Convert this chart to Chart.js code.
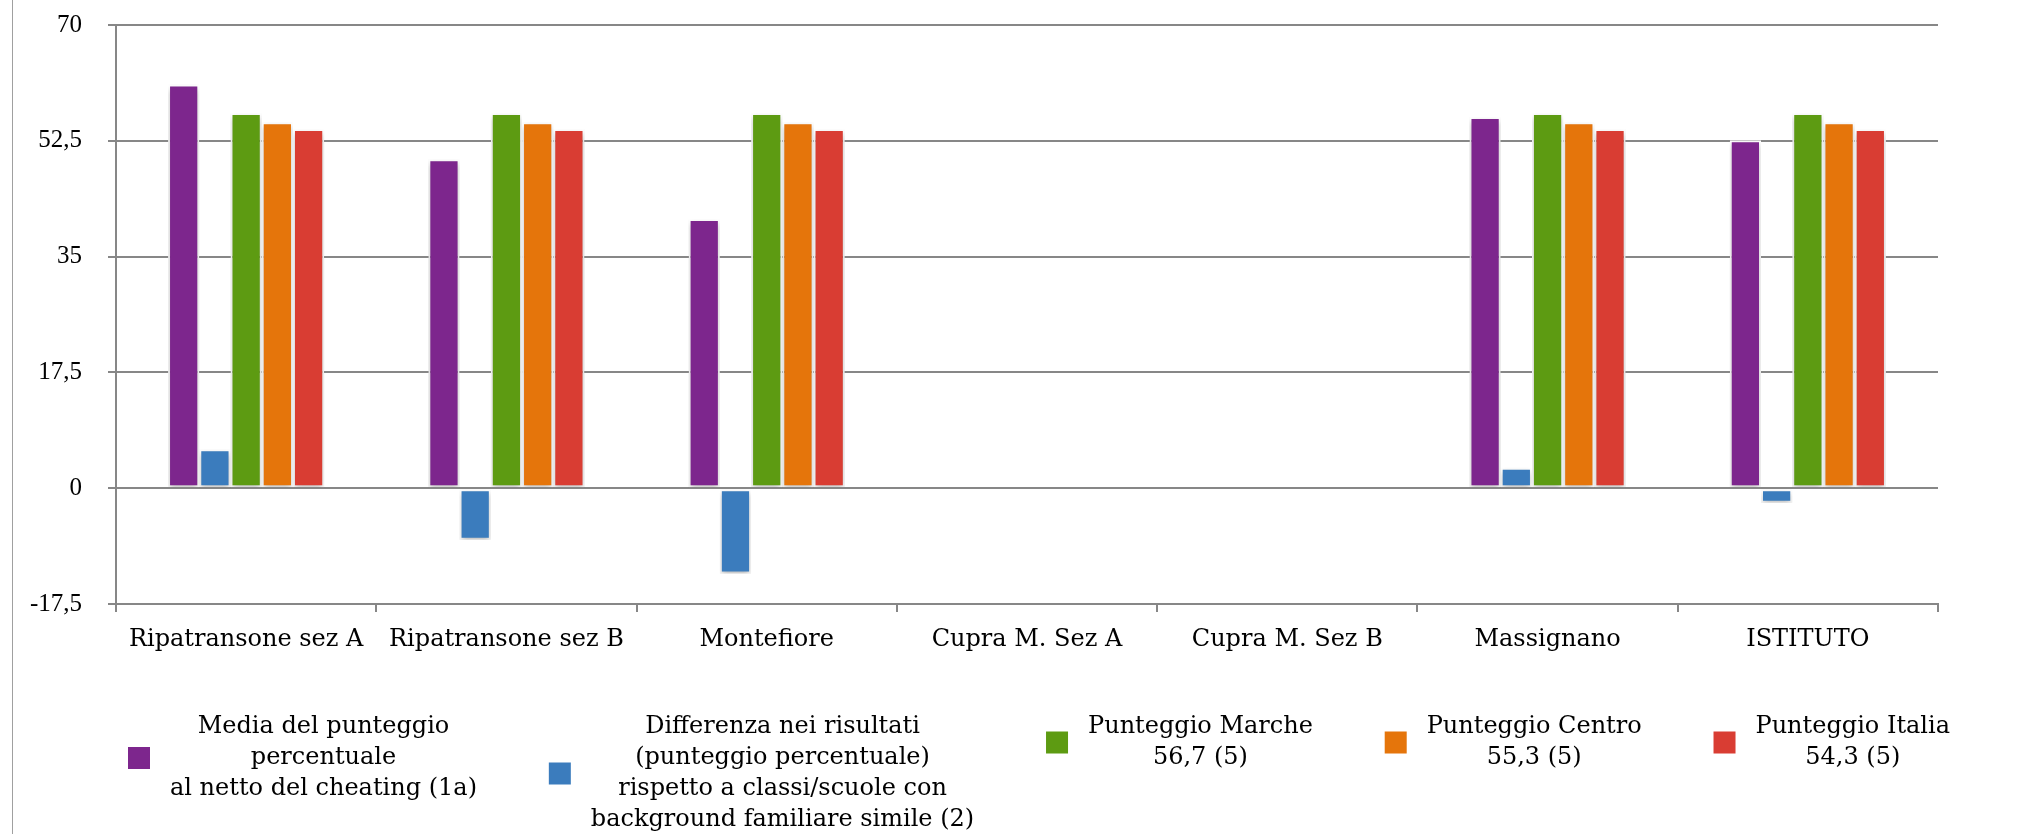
<!DOCTYPE html>
<html>
<head>
<meta charset="utf-8">
<script src="https://cdn.jsdelivr.net/npm/chart.js@4/dist/chart.umd.min.js"></script>
<style>
  html, body { margin: 0; padding: 0; background: #fff; }
  #wrap { position: relative; width: 2018px; height: 834px; }
  #frame { position: absolute; left: 12px; top: 0; width: 1px; height: 834px; background: #a0a0a0; }
</style>
</head>
<body>
<div id="wrap">
  <div id="frame"></div>
  <canvas id="chart" width="2018" height="834"></canvas>
</div>
<script>
// categories and series
const categories = ['Ripatransone sez A', 'Ripatransone sez B', 'Montefiore', 'Cupra M. Sez A', 'Cupra M. Sez B', 'Massignano', 'ISTITUTO'];
const mediaPunteggio = [61.0, 49.7, 40.7, null, null, 56.1, 52.6];
const differenza = [5.9, -7.8, -12.9, null, null, 3.1, -2.2];
const marche = [56.7, 56.7, 56.7, null, null, 56.7, 56.7];
const centro = [55.3, 55.3, 55.3, null, null, 55.3, 55.3];
const italia = [54.3, 54.3, 54.3, null, null, 54.3, 54.3];
const seriesLabels = [
  'Media del punteggio\npercentuale\nal netto del cheating (1a)',
  'Differenza nei risultati\n(punteggio percentuale)\nrispetto a classi/scuole con\nbackground familiare simile (2)',
  'Punteggio Marche\n56,7 (5)',
  'Punteggio Centro\n55,3 (5)',
  'Punteggio Italia\n54,3 (5)'
];
const seriesColors = ['#7d268d', '#3b7cbd', '#5d9b12', '#e5750b', '#d93d33'];
const yTicks = [-17.5, 0, 17.5, 35, 52.5, 70];

const FONT = '"DejaVu Serif", "Liberation Serif", serif';
const NUM_FONT = '"Liberation Serif", "DejaVu Serif", serif';
const GRID = '#878787';

function makeSet(i, data) {
  return {
    label: seriesLabels[i],
    data: data,
    backgroundColor: seriesColors[i],
    borderColor: '#ffffff',
    borderWidth: 2,
    borderSkipped: false,
    categoryPercentage: 0.6,
    barPercentage: 1.0
  };
}

// soft shadow under the bars, like the original
const barShadow = {
  id: 'barShadow',
  beforeDatasetsDraw(chart) {
    const ctx = chart.ctx;
    ctx.save();
    ctx.shadowColor = 'rgba(0,0,0,0.25)';
    ctx.shadowBlur = 6;
    ctx.shadowOffsetY = 3;
  },
  afterDatasetsDraw(chart) {
    chart.ctx.restore();
  }
};

// legend below the plot: swatch + centred multi-line text, spread across the width
const multiLegend = {
  id: 'multiLegend',
  afterDraw(chart) {
    const ctx = chart.ctx;
    const area = chart.chartArea;
    const lineH = 31;
    const topLine = 727;
    const sw = 22, gap = 20;
    ctx.save();
    ctx.font = '24px ' + FONT;
    ctx.textBaseline = 'middle';
    ctx.textAlign = 'center';
    const items = chart.data.datasets.map(ds => {
      const lines = ds.label.split('\n');
      const w = Math.max(...lines.map(l => ctx.measureText(l).width));
      return { lines, w, color: ds.backgroundColor };
    });
    const startX = area.left + 12;
    const endX = area.right + 12;
    const total = items.reduce((s, it) => s + sw + gap + it.w, 0);
    const spacing = (endX - startX - total) / (items.length - 1);
    let x = startX;
    items.forEach(it => {
      const n = it.lines.length;
      const midY = topLine + (n - 1) * lineH / 2;
      ctx.fillStyle = it.color;
      ctx.fillRect(x, midY - sw / 2, sw, sw);
      ctx.fillStyle = '#000';
      const cx = x + sw + gap + it.w / 2;
      it.lines.forEach((l, k) => ctx.fillText(l, cx, topLine + k * lineH));
      x += sw + gap + it.w + spacing;
    });
    ctx.restore();
  }
};

const ctx = document.getElementById('chart').getContext('2d');
new Chart(ctx, {
  type: 'bar',
  data: {
    labels: categories,
    datasets: [
      makeSet(0, mediaPunteggio),
      makeSet(1, differenza),
      makeSet(2, marche),
      makeSet(3, centro),
      makeSet(4, italia)
    ]
  },
  options: {
    responsive: false,
    animation: false,
    layout: { padding: { top: 25, right: 80, bottom: 170, left: 0 } },
    plugins: {
      legend: { display: false },
      tooltip: { enabled: false }
    },
    scales: {
      x: {
        grid: {
          offset: true,
          color: c => (c.index === categories.length ? GRID : 'transparent'),
          tickColor: GRID,
          lineWidth: 2,
          tickLength: 8
        },
        border: { color: GRID, width: 2 },
        ticks: { color: '#000', font: { family: FONT, size: 24 }, padding: 13, maxRotation: 0 },
        afterFit: s => { s.height = 60; }
      },
      y: {
        min: -17.5,
        max: 70,
        afterBuildTicks: s => { s.ticks = yTicks.map(v => ({ value: v })); },
        grid: { color: GRID, lineWidth: 2, tickLength: 8 },
        border: { color: GRID, width: 2 },
        ticks: {
          color: '#000',
          font: { family: NUM_FONT, size: 25 },
          padding: 26,
          callback: v => String(v).replace('.', ',')
        },
        afterFit: s => { s.width = 116; s.paddingTop = 0; s.paddingBottom = 0; }
      }
    }
  },
  plugins: [barShadow, multiLegend]
});
</script>
</body>
</html>
